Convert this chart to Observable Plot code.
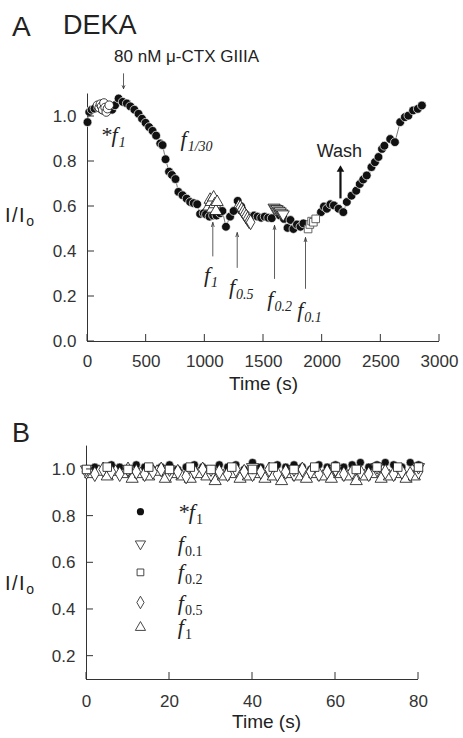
<!DOCTYPE html>
<html><head><meta charset="utf-8">
<script src="https://cdn.jsdelivr.net/npm/d3@7"></script>
<script src="https://cdn.jsdelivr.net/npm/@observablehq/plot@0.6"></script>
<style>
body{margin:0;background:#fff;}
#wrap{position:relative;width:463px;height:738px;font-family:"Liberation Sans",Arial,sans-serif;color:#222;overflow:hidden;}
#wrap svg{position:absolute;left:0;overflow:visible;}
.lbl{position:absolute;white-space:nowrap;line-height:1;color:#222;}
.lbl sub{font-size:0.7em;vertical-align:-0.3em;line-height:0;letter-spacing:0;}
</style></head><body><div id="wrap"></div>
<script>
// ---------- Panel A data ----------
const timeA = [0,15,35,60,90,120,150,180,210,235,265,300,335,365,400,435,465,495,525,555,585,620,640,665,695,720,750,775,810,845,875,905,935,960,990,1010,1040,1070,1100,1130,1150,1180,1215,1245,1280,1310,1420,1450,1480,1510,1540,1570,1640,1675,1705,1730,1755,1785,1815,1840,1990,2015,2040,2070,2100,2140,2180,2210,2250,2290,2320,2350,2380,2420,2450,2480,2510,2530,2580,2620,2665,2705,2735,2775,2815,2850];
const valueA = [0.975,1.02,1.03,1.035,1.04,1.03,1.045,1.035,1.03,1.05,1.08,1.065,1.058,1.045,1.03,1.012,0.99,0.972,0.953,0.936,0.915,0.88,0.873,0.81,0.755,0.74,0.722,0.665,0.65,0.635,0.62,0.615,0.61,0.567,0.57,0.565,0.555,0.56,0.56,0.57,0.58,0.51,0.555,0.58,0.625,0.60,0.56,0.555,0.55,0.555,0.55,0.548,0.56,0.545,0.505,0.54,0.50,0.52,0.51,0.525,0.575,0.60,0.59,0.61,0.605,0.59,0.575,0.62,0.648,0.67,0.70,0.72,0.738,0.775,0.797,0.82,0.856,0.87,0.90,0.886,0.975,0.997,1.004,1.027,1.034,1.049];
const starF1TimeA = [85,100,110,120,130,140,150,160,170,185];
const starF1ValueA = [1.05,1.04,1.055,1.045,1.03,1.06,1.04,1.02,1.035,1.05];
const f1TimeA = [1035,1045,1055,1065,1075,1085,1095,1105];
const f1ValueA = [0.60,0.63,0.62,0.59,0.64,0.61,0.58,0.62];
const f05TimeA = [1290,1302,1315,1328,1340,1352,1365,1378,1390];
const f05ValueA = [0.60,0.595,0.585,0.575,0.565,0.555,0.545,0.535,0.53];
const f02TimeA = [1590,1603,1616,1629,1642,1655,1668];
const f02ValueA = [0.595,0.59,0.588,0.582,0.578,0.57,0.565];
const f01TimeA = [1880,1895,1910,1925,1945];
const f01ValueA = [0.50,0.52,0.535,0.53,0.545];
const xTicksA = [0,500,1000,1500,2000,2500,3000];
const yTicksA = [0,0.2,0.4,0.6,0.8,1.0];

// ---------- Panel B data ----------
const evenTimeB = [0,2,4,6,8,10,12,14,16,18,20,22,24,26,28,30,32,34,36,38,40,42,44,46,48,50,52,54,56,58,60,62,64,66,68,70,72,74,76,78,80];
const oddTimeB = [1,3,5,7,9,11,13,15,17,19,21,23,25,27,29,31,33,35,37,39,41,43,45,47,49,51,53,55,57,59,61,63,65,67,69,71,73,75,77,79];
const starF1B = [1.00,1.01,1.00,1.02,1.01,1.00,1.02,1.01,1.00,1.01,1.02,1.00,1.01,1.02,1.01,1.00,1.02,1.01,1.02,1.00,1.03,1.01,1.00,1.02,1.01,1.02,1.01,1.00,1.02,1.01,1.02,1.01,1.02,1.03,1.01,1.02,1.03,1.02,1.01,1.03,1.02];
const f1B = [0.98,0.99,0.97,0.99,0.98,0.96,0.98,0.97,0.99,0.96,0.98,0.97,0.96,0.98,0.97,0.95,0.97,0.98,0.96,0.97,0.98,0.96,0.97,0.95,0.98,0.97,0.96,0.98,0.97,0.96,0.98,0.97,0.95,0.97,0.98,0.96,0.97,0.98,0.96,0.97];
const f05B = [0.99,0.98,1.00,0.99,0.98,1.00,0.99,0.98,0.99,1.00,0.98,0.99,0.97,0.99,1.00,0.98,0.99,0.98,1.00,0.99,0.98,0.99,1.00,0.98,0.99,0.98,1.00,0.99,0.98,0.99,1.00,0.98,0.99,0.99,0.98,1.00,0.99,0.98,0.99,0.98,0.99];
const f02TimeB = [0,5,10,15,20,25,30,35,40,45,50,55,60,65,70,75,80];
const f02B = [1.00,1.01,1.00,1.01,1.00,1.01,1.00,1.01,1.00,1.01,1.00,1.01,1.01,1.00,1.01,1.01,1.01];
const f01TimeB = [0,10,20,30,40,50,60,70,80];
const f01B = [1.00,1.00,1.00,1.00,1.01,1.00,1.00,1.01,1.01];
const legendLabels = ["*f_1","f_0.1","f_0.2","f_0.5","f_1"];
const xTicksB = [0,20,40,60,80];
const yTicksB = [0.2,0.4,0.6,0.8,1.0];

// ---------- styles / layout ----------
const SANS = '"Liberation Sans", Arial, sans-serif';
const SERIF = '"Liberation Serif", "Times New Roman", serif';
const AX = "#333";
const TICK = 7;
const W = 463;
const LA = {height: 400, marginLeft: 87, marginRight: 24, marginTop: 93.5, marginBottom: 59};
const LB = {height: 338, marginLeft: 86, marginRight: 45, marginTop: 45.6, marginBottom: 59};
const zip = (ts, vs) => ts.map((t, i) => ({t, v: vs[i]}));

function subscripts(svg, upright) {
  d3.select(svg).selectAll("text").each(function() {
    const s = this.textContent;
    if (!s.includes("_")) return;
    const [base, sub] = s.split("_");
    const el = d3.select(this);
    el.text(null);
    el.append("tspan").text(base);
    const ts = el.append("tspan").attr("font-size", 14).attr("dy", 5).attr("dx", 1).text(sub);
    if (upright) ts.style("font-style", "normal");
  });
}
// inward tick marks, placed with the plot's own scales
function addTicks(svg, xt, yt) {
  const sx = svg.scale("x"), sy = svg.scale("y");
  const [y0] = sy.range;
  const [x0] = sx.range;
  const g = d3.select(svg).append("g").attr("stroke", AX).attr("stroke-width", 1);
  xt.forEach(v => { const px = sx.apply(v); g.append("line").attr("x1", px).attr("x2", px).attr("y1", y0).attr("y2", y0 - TICK); });
  yt.forEach(v => { const py = sy.apply(v); g.append("line").attr("x1", x0).attr("x2", x0 + TICK).attr("y1", py).attr("y2", py); });
}

const wrap = document.getElementById("wrap");

// ---------- Panel A ----------
const ptsA = zip(timeA, valueA);
const tests = [
  {t: 1068, tip: 0.529, base: 0.38, lt: 992, lv: 0.295, label: "f_1"},
  {t: 1276, tip: 0.484, base: 0.329, lt: 1205, lv: 0.243, label: "f_0.5"},
  {t: 1594, tip: 0.516, base: 0.28, lt: 1532, lv: 0.191, label: "f_0.2"},
  {t: 1858, tip: 0.462, base: 0.236, lt: 1787, lv: 0.139, label: "f_0.1"}
];
const openStyle = {fill: "#fff", stroke: "#111", strokeWidth: 0.8};
const plotA = Plot.plot({
  width: W, ...LA,
  style: {fontFamily: SANS, fontSize: "17px", color: "#333", background: "transparent"},
  x: {domain: [0, 3000]},
  y: {domain: [0, 1.1]},
  marks: [
    Plot.ruleX([0], {stroke: AX}),
    Plot.ruleY([0], {stroke: AX}),
    Plot.axisX({ticks: xTicksA, tickSize: 0, tickPadding: 13, tickFormat: "d", label: null}),
    Plot.axisY({ticks: yTicksA, tickSize: 0, tickPadding: 11, tickFormat: ".1f", label: null}),
    Plot.line(ptsA, {x: "t", y: "v", stroke: "#555", strokeWidth: 0.8}),
    Plot.dot(ptsA, {x: "t", y: "v", r: 4.4, fill: "#111", stroke: "#fff", strokeWidth: 0.7}),
    Plot.dot(zip(starF1TimeA, starF1ValueA), {x: "t", y: "v", r: 4.3, ...openStyle}),
    Plot.dot(zip(f1TimeA, f1ValueA), {x: "t", y: "v", r: 4.5, symbol: "triangle", ...openStyle}),
    Plot.dot(zip(f05TimeA, f05ValueA), {x: "t", y: "v", r: 4.5, symbol: "diamond", ...openStyle}),
    Plot.dot(zip(f02TimeA, f02ValueA), {x: "t", y: "v", r: 4.5, symbol: "triangle", rotate: 180, ...openStyle}),
    Plot.dot(zip(f01TimeA, f01ValueA), {x: "t", y: "v", r: 4.3, symbol: "square", fill: "#fff", stroke: "#555", strokeWidth: 0.9}),
    Plot.arrow(tests, {x1: "t", x2: "t", y1: "base", y2: "tip", stroke: "#333", strokeWidth: 0.8, headLength: 8, headAngle: 36}),
    Plot.text(tests, {x: "lt", y: "lv", text: "label", textAnchor: "start", fontFamily: SERIF, fontStyle: "italic", fontSize: 22, fill: "#222"}),
    Plot.text(["*f_1"], {x: 111, y: 0.917, textAnchor: "start", fontFamily: SERIF, fontStyle: "italic", fontSize: 22, fill: "#222"}),
    Plot.text(["f_1/30"], {x: 793, y: 0.902, textAnchor: "start", fontFamily: SERIF, fontStyle: "italic", fontSize: 22, fill: "#222"}),
    Plot.text(["80 nM \u03bc-CTX GIIIA"], {x: 844, y: 1.267, fontSize: 17, fill: "#222"}),
    Plot.arrow([{t: 307}], {x1: "t", x2: "t", y1: () => 1.19, y2: () => 1.124, stroke: "#333", strokeWidth: 0.8, headLength: 6, headAngle: 50}),
    Plot.text(["Wash"], {x: 2147, y: 0.844, fontSize: 18, fill: "#222"}),
    Plot.link([{t: 2156}], {x1: "t", x2: "t", y1: () => 0.636, y2: () => 0.765, stroke: "#111", strokeWidth: 2.2}),
    Plot.dot([{t: 2156}], {x: "t", y: () => 0.764, symbol: "triangle", r: 2.8, fill: "#111"}),
    Plot.text(["Time (s)"], {frameAnchor: "bottom", dy: 48, fontSize: 19, fill: "#222"})
  ]
});
addTicks(plotA, xTicksA, yTicksA);
subscripts(plotA, false);
plotA.style.top = "0px";
wrap.appendChild(plotA);

// ---------- Panel B ----------
const legendY = [0.819, 0.681, 0.559, 0.43, 0.323];
const legendSymbols = ["circle", "triangle", "square", "diamond", "triangle"];
const legendRotate = [0, 180, 0, 0, 0];
const legendData = legendLabels.map((label, i) => ({label, y: legendY[i], symbol: legendSymbols[i], rot: legendRotate[i], filled: i === 0}));
const plotB = Plot.plot({
  width: W, ...LB,
  style: {fontFamily: SANS, fontSize: "17px", color: "#333", background: "transparent"},
  x: {domain: [0, 80]},
  y: {domain: [0.1, 1.1]},
  symbol: {type: "identity"},
  marks: [
    Plot.ruleX([0], {stroke: AX}),
    Plot.ruleY([0.1], {stroke: AX}),
    Plot.axisX({ticks: xTicksB, tickSize: 0, tickPadding: 15, tickFormat: "d", label: null}),
    Plot.axisY({ticks: yTicksB, tickSize: 0, tickPadding: 11, tickFormat: ".1f", label: null}),
    Plot.dot(zip(evenTimeB, starF1B), {x: "t", y: "v", r: 4, fill: "#111", stroke: "#fff", strokeWidth: 0.5}),
    Plot.dot(zip(oddTimeB, f1B), {x: "t", y: "v", r: 4.5, symbol: "triangle", ...openStyle}),
    Plot.dot(zip(evenTimeB, f05B), {x: "t", y: "v", r: 4.5, symbol: "diamond", ...openStyle}),
    Plot.dot(zip(f01TimeB, f01B), {x: "t", y: "v", r: 4.5, symbol: "triangle", rotate: 180, ...openStyle}),
    Plot.dot(zip(f02TimeB, f02B), {x: "t", y: "v", r: 4.8, symbol: "square", ...openStyle}),
    Plot.dot(legendData.filter(d => d.filled), {x: () => 13, y: "y", r: 3.6, fill: "#111"}),
    Plot.dot(legendData.filter(d => !d.filled), {x: () => 13, y: "y", r: 3.8, symbol: "symbol", rotate: "rot", fill: "#fff", stroke: "#333", strokeWidth: 0.9}),
    Plot.text(legendData, {x: () => 22, y: "y", text: "label", textAnchor: "start", fontFamily: SERIF, fontStyle: "italic", fontSize: 22, fill: "#222"}),
    Plot.text(["Time (s)"], {frameAnchor: "bottom", dy: 48, dx: 14, fontSize: 19, fill: "#222"})
  ]
});
addTicks(plotB, xTicksB, yTicksB);
subscripts(plotB, true);
plotB.style.top = "400px";
wrap.appendChild(plotB);

// ---------- HTML titles ----------
function lbl(html, left, top, size, spacing) {
  const d = document.createElement("div");
  d.className = "lbl";
  d.innerHTML = html;
  d.style.left = left + "px";
  d.style.top = top + "px";
  d.style.fontSize = size + "px";
  if (spacing) d.style.letterSpacing = spacing + "px";
  wrap.appendChild(d);
}
lbl("A", 12, 13, 28);
lbl("DEKA", 63, 11.6, 27);
lbl("B", 12, 419.5, 27);
lbl("I/I<sub>o</sub>", 5, 205, 20, 1.5);
lbl("I/I<sub>o</sub>", 5, 573, 20, 1.5);
</script></body></html>
